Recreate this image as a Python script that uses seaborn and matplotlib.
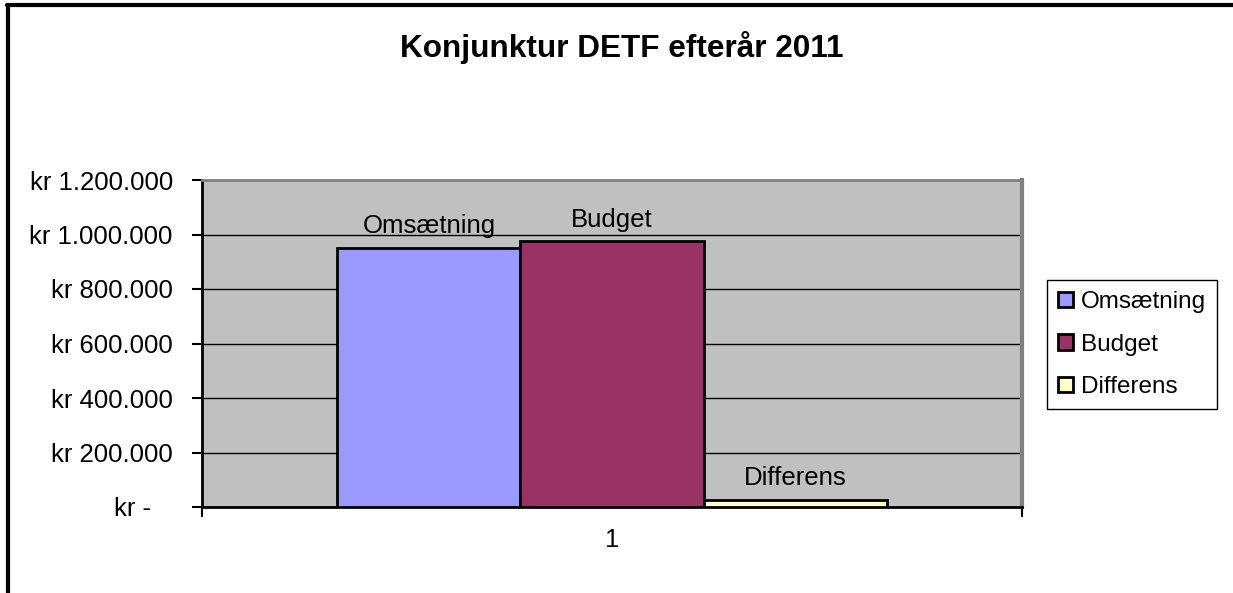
import matplotlib
matplotlib.use("Agg")
import matplotlib.pyplot as plt
import seaborn as sns
import pandas as pd
from matplotlib.lines import Line2D
from matplotlib.ticker import FuncFormatter, MultipleLocator

kategori = ["1", "1", "1"]
serier = ["Omsætning", "Budget", "Differens"]
beloeb = [950000, 975000, 25000]
farver = ["#9999FF", "#993366", "#FFFFCC"]

df = pd.DataFrame({"kategori": kategori, "serie": serier, "beløb": beloeb})

sns.set_style("white")
plt.rcParams["font.family"] = ["Liberation Sans", "DejaVu Sans"]
plt.rcParams["text.color"] = "black"
plt.rcParams["xtick.color"] = "black"
plt.rcParams["ytick.color"] = "black"

fig = plt.figure(figsize=(12.33, 5.93), dpi=100)
ax = fig.add_axes([202 / 1233, 1 - 507 / 593, 820 / 1233, 327 / 593])
ax.set_facecolor("#C0C0C0")

sns.barplot(data=df, x="kategori", y="beløb", hue="serie", hue_order=serier,
            palette=farver, saturation=1, width=0.67, edgecolor="black",
            linewidth=2, ax=ax, zorder=3)

handles, labels = ax.get_legend_handles_labels()
if ax.get_legend() is not None:
    ax.get_legend().remove()

# dataetiketter med serienavn over hver søjle
for container, navn in zip(ax.containers, serier):
    ax.bar_label(container, labels=[navn], padding=7, fontsize=18.5, color="black")

ax.set_xlim(-0.5, 0.5)
ax.set_ylim(0, 1200000)
ax.yaxis.set_major_locator(MultipleLocator(200000))


def kr_format(v, pos):
    if v == 0:
        return "kr -   "
    return "kr " + f"{int(v):,}".replace(",", ".")


ax.yaxis.set_major_formatter(FuncFormatter(kr_format))
ax.grid(axis="y", color="black", linewidth=1, zorder=0)
ax.set_axisbelow(True)

# x-akse: streger ved kategorigrænser, etiket i midten
ax.set_xticks([-0.5, 0.5])
ax.set_xticklabels(["", ""])
ax.set_xticks([0], minor=True)
ax.set_xticklabels(["1"], minor=True, fontsize=18.5)
ax.tick_params(axis="x", which="major", direction="out", length=7, width=1.5,
               color="black", bottom=True)
ax.tick_params(axis="x", which="minor", length=0, pad=15)
ax.tick_params(axis="y", direction="out", length=7, width=1.5, color="black",
               left=True, labelsize=18.5, pad=14)
ax.set_xlabel("")
ax.set_ylabel("")

ax.spines["left"].set_color("black")
ax.spines["left"].set_linewidth(2)
ax.spines["bottom"].set_color("black")
ax.spines["bottom"].set_linewidth(2)
ax.spines["top"].set_color("#808080")
ax.spines["top"].set_linewidth(2)
ax.spines["right"].set_color("#808080")
ax.spines["right"].set_linewidth(3)
for s in ax.spines.values():
    s.set_visible(True)

fig.text(622 / 1233, 1 - 48 / 593, "Konjunktur DETF efterår 2011",
         ha="center", va="center", fontsize=22.7, fontweight="bold",
         color="black")

fig.legend(handles, labels, loc="upper left",
           bbox_to_anchor=(1047 / 1233, 1 - 280 / 593), borderaxespad=0,
           fancybox=False, edgecolor="black", framealpha=1, fontsize=17.5,
           handlelength=0.6, handleheight=0.6, handletextpad=0.35,
           labelspacing=0.85, borderpad=0.45, labelcolor="black")
for h in fig.legends[0].legend_handles:
    h.set_edgecolor("black")
    h.set_linewidth(2)

# ramme om diagramområdet (øverst og venstre)
fig.add_artist(Line2D([7 / 1233, 1], [1 - 5 / 593, 1 - 5 / 593],
                      transform=fig.transFigure, color="black", linewidth=3))
fig.add_artist(Line2D([8 / 1233, 8 / 1233], [0, 1 - 5 / 593],
                      transform=fig.transFigure, color="black", linewidth=3))

fig.savefig("out.png", dpi=100)
